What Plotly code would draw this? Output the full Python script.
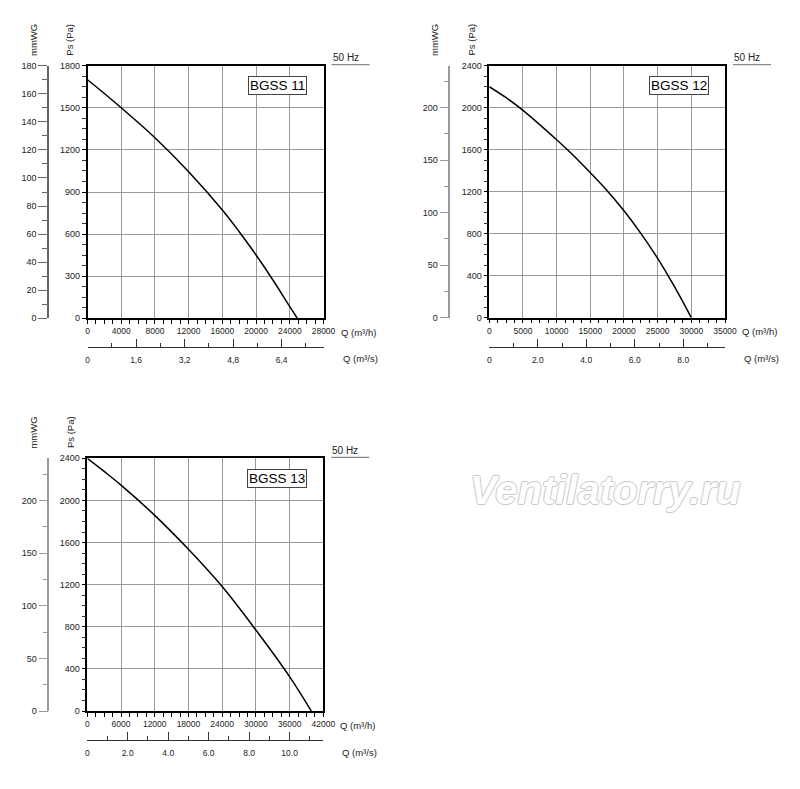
import plotly.graph_objects as go

# Fan curves: Q in m3/h, static pressure Ps in Pa
q_11 = [0, 2000, 4000, 8000, 12000, 16000, 18000, 20000, 22000, 24000, 24900]
ps_11 = [1700, 1602, 1500, 1287, 1045, 772, 617, 451, 273, 83, 0]

q_12 = [0, 2500, 5000, 10000, 12500, 15000, 17500, 20000, 22500, 25000, 27500, 30000]
ps_12 = [2200, 2095, 1975, 1695, 1545, 1381, 1210, 1019, 803, 565, 295, 0]

q_13 = [0, 3000, 6000, 12000, 18000, 24000, 30000, 36000, 39850]
ps_13 = [2400, 2275, 2145, 1858, 1536, 1182, 769, 326, 0]

models = ['BGSS 11', 'BGSS 12', 'BGSS 13']

# axis ranges / steps for each sheet
q_max = [28000, 35000, 42000]
q_step = [4000, 5000, 6000]
ps_max = [1800, 2400, 2400]
ps_step = [300, 400, 400]
mm_step = [20, 50, 50]

# second flow axis (m3/s) labels
ms_ticks_11 = [0, 1.6, 3.2, 4.8, 6.4]
ms_labels_11 = ['0', '1,6', '3,2', '4,8', '6,4']
ms_ticks_12 = [0, 2, 4, 6, 8]
ms_labels_12 = ['0', '2.0', '4.0', '6.0', '8.0']
ms_ticks_13 = [0, 2, 4, 6, 8, 10]
ms_labels_13 = ['0', '2.0', '4.0', '6.0', '8.0', '10.0']

W, H = 800, 789
OFF = 8  # the page body adds 8px margin around the plot div
FONT = 'Liberation Sans, Arial, sans-serif'


def px(x):
    return (x - OFF) / W


def py(y):
    return 1 - (y - OFF) / H


fig = go.Figure()

# pixel boxes of the three sheets: left, right, top, bottom, mmWG axis x, m3/s axis y
boxes = [
    (87.5, 323.5, 65.7, 318.3, 48.3, 346.7),
    (489.3, 725.0, 65.7, 317.7, 449.3, 346.7),
    (87.3, 323.3, 458.3, 711.0, 48.3, 740.0),
]
curves = [(q_11, ps_11), (q_12, ps_12), (q_13, ps_13)]
ms_sets = [(ms_ticks_11, ms_labels_11), (ms_ticks_12, ms_labels_12), (ms_ticks_13, ms_labels_13)]
mm_line = [('#666', 2), ('#999', 1.5), ('#999', 1.5)]

layout = {}
annotations = []
shapes = []

for i in range(3):
    left, right, top, bottom, mm_x, ms_y = boxes[i]
    q, ps = curves[i]
    ms_ticks, ms_labels = ms_sets[i]
    n_x = 2 * i + 1
    n_x2 = 2 * i + 2
    xa = 'x' if n_x == 1 else f'x{n_x}'
    ya = 'y' if n_x == 1 else f'y{n_x}'
    xa2 = f'x{n_x2}'
    ya2 = f'y{n_x2}'
    xkey = 'xaxis' if n_x == 1 else f'xaxis{n_x}'
    ykey = 'yaxis' if n_x == 1 else f'yaxis{n_x}'

    # main curve
    fig.add_trace(go.Scatter(x=q, y=ps, mode='lines',
                             line=dict(color='black', width=1.5, shape='spline', smoothing=1),
                             xaxis=xa, yaxis=ya, hoverinfo='skip', showlegend=False))
    # same curve in mmWG and m3/s, invisible, so the extra axes get drawn
    fig.add_trace(go.Scatter(x=q, y=[p / 10 for p in ps], mode='lines',
                             line=dict(color='rgba(0,0,0,0)'), xaxis=xa, yaxis=ya2,
                             hoverinfo='skip', showlegend=False))
    fig.add_trace(go.Scatter(x=[v / 3600 for v in q], y=ps, mode='lines',
                             line=dict(color='rgba(0,0,0,0)'), xaxis=xa2, yaxis=ya,
                             hoverinfo='skip', showlegend=False))

    layout[xkey] = dict(
        domain=[px(left), px(right)], anchor=ya, range=[0, q_max[i]], automargin=False,
        tick0=0, dtick=q_step[i], tickformat='d', ticks='outside', ticklen=4,
        tickcolor='black', showgrid=True, gridcolor='#9a9a9a', gridwidth=1,
        showline=True, linecolor='black', linewidth=1.5, mirror=True,
        zeroline=False, tickfont=dict(family=FONT, size=8.5, color='#222'),
        minor=dict(dtick=q_step[i] / 4, tick0=0, ticks='outside', ticklen=4,
                   tickcolor='black', showgrid=False),
        fixedrange=True,
    )
    layout[ykey] = dict(
        domain=[py(bottom), py(top)], anchor=xa, range=[0, ps_max[i]], automargin=False,
        tick0=0, dtick=ps_step[i], tickformat='d', ticks='outside', ticklen=4,
        tickcolor='black', showgrid=True, gridcolor='#9a9a9a', gridwidth=1,
        showline=True, linecolor='black', linewidth=1.5, mirror=True,
        zeroline=False, tickfont=dict(family=FONT, size=9, color='#222'),
        minor=dict(dtick=ps_step[i] / 4, tick0=0, ticks='outside', ticklen=4,
                   tickcolor='#333', showgrid=False),
        fixedrange=True,
    )
    mm_col, mm_w = mm_line[i]
    layout[f'yaxis{n_x2}'] = dict(
        overlaying=ya, anchor='free', position=px(mm_x), side='left', automargin=False,
        range=[0, ps_max[i] / 10], tick0=0, dtick=mm_step[i], ticks='outside',
        ticklen=9, tickcolor=mm_col, tickwidth=1.2, showgrid=False, zeroline=False,
        showline=True, linecolor=mm_col, linewidth=mm_w,
        tickfont=dict(family=FONT, size=9, color='#222'),
        minor=dict(dtick=mm_step[i] / 2, tick0=0, ticks='outside', ticklen=5,
                   tickcolor=mm_col, tickwidth=1.2),
        fixedrange=True,
    )
    layout[f'xaxis{n_x2}'] = dict(
        overlaying=xa, anchor='free', position=py(ms_y), side='bottom', automargin=False,
        range=[0, q_max[i] / 3600], tickmode='array', tickvals=ms_ticks, ticktext=ms_labels,
        ticks='inside', ticklen=8, tickcolor='#333', showgrid=False, zeroline=False,
        showline=True, linecolor='#333', linewidth=1, ticklabelstandoff=5,
        tickfont=dict(family=FONT, size=8.5, color='#222'),
        minor=dict(dtick=ms_ticks[1] / 2, tick0=0, ticks='inside', ticklen=4, tickcolor='#333'),
        fixedrange=True,
    )

    # texts around each sheet
    annotations.append(dict(text=models[i], x=px(left + (right - left) * 0.805), y=py(top + 20),
                            xref='paper', yref='paper', xanchor='center', yanchor='middle',
                            showarrow=False, font=dict(family=FONT, size=13.5, color='black'),
                            bgcolor='white', bordercolor='#444', borderwidth=1, borderpad=1))
    annotations.append(dict(text='50 Hz', x=px(right + 22), y=py(top - 8), xref='paper', yref='paper',
                            xanchor='center', yanchor='middle', showarrow=False,
                            font=dict(family=FONT, size=10, color='#222')))
    shapes.append(dict(type='line', xref='paper', yref='paper', x0=px(right + 8), x1=px(right + 46),
                       y0=py(top - 1), y1=py(top - 1), line=dict(color='#888', width=1.2)))
    annotations.append(dict(text='Q (m³/h)', x=px(right + 15), y=py(bottom + 14), xref='paper',
                            yref='paper', xanchor='left', yanchor='middle', showarrow=False,
                            font=dict(family=FONT, size=9.5, color='#222')))
    annotations.append(dict(text='Q (m³/s)', x=px(right + 17), y=py(ms_y + 12), xref='paper',
                            yref='paper', xanchor='left', yanchor='middle', showarrow=False,
                            font=dict(family=FONT, size=9.5, color='#222')))
    annotations.append(dict(text='mmWG', x=px(mm_x - 15), y=py(top - 26), xref='paper', yref='paper',
                            xanchor='center', yanchor='middle', textangle=-90, showarrow=False,
                            font=dict(family=FONT, size=9.5, color='#222')))
    annotations.append(dict(text='Ps (Pa)', x=px(left - 17.5), y=py(top - 26), xref='paper', yref='paper',
                            xanchor='center', yanchor='middle', textangle=-90, showarrow=False,
                            font=dict(family=FONT, size=9.5, color='#222')))

# site watermark
annotations.append(dict(text='Ventilatorry.ru', x=px(605), y=py(490), xref='paper', yref='paper',
                        xanchor='center', yanchor='middle', showarrow=False,
                        font=dict(family=FONT, size=40, color='white', weight='bold', style='italic',
                                  shadow='1px 0 0 #c8c8c8, -1px 0 0 #c8c8c8, 0 1px 0 #c8c8c8, 0 -1px 0 #c8c8c8')))

fig.update_layout(
    width=W, height=H,
    margin=dict(l=0, r=0, t=0, b=0, autoexpand=False),
    paper_bgcolor='white', plot_bgcolor='white',
    showlegend=False,
    annotations=annotations,
    shapes=shapes,
    **layout,
)

fig.write_html('out.html')
